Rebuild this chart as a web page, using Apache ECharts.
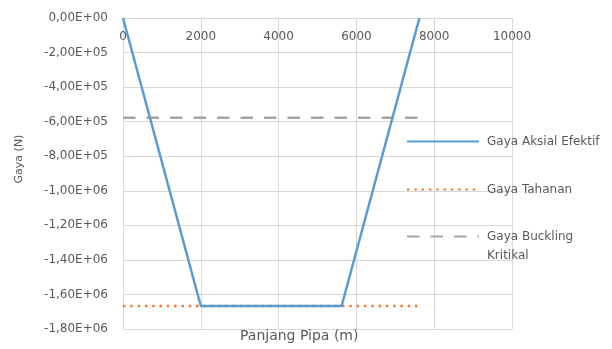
<!DOCTYPE html>
<html>
<head>
<meta charset="utf-8">
<script src="https://cdn.jsdelivr.net/npm/echarts@6/dist/echarts.min.js"></script>
<style>
html,body{margin:0;padding:0;background:#fff;}
#chart{width:612px;height:349px;}
</style>
</head>
<body>
<div id="chart"></div>
<script>
// Data
var seriesNames = ['Gaya Aksial Efektif', 'Gaya Tahanan', 'Gaya Buckling Kritikal'];
var aksialX = [0, 2000, 5620, 7620];
var aksialY = [0, -1667000, -1667000, 0];
var tahananX = [0, 7620];
var tahananY = [-1667000, -1667000];
var bucklingX = [0, 7620];
var bucklingY = [-578000, -578000];
var xTicks = [0, 2000, 4000, 6000, 8000, 10000];
var yTicks = [0, -200000, -400000, -600000, -800000, -1000000, -1200000, -1400000, -1600000, -1800000];

function pairs(xs, ys) { return xs.map(function (x, i) { return [x, ys[i]]; }); }
function sci(v) {
  if (v === 0) return '0,00E+00';
  var s = v.toExponential(2);
  var parts = s.split('e');
  var mant = parts[0].replace('.', ',');
  var exp = parseInt(parts[1], 10);
  var sign = exp < 0 ? '-' : '+';
  var e = Math.abs(exp);
  return mant + 'E' + sign + (e < 10 ? '0' + e : '' + e);
}

var font = 'DejaVu Sans';
var txt = '#595959';
var grid = '#D9D9D9';
var chart = echarts.init(document.getElementById('chart'), null, {renderer: 'canvas'});

function legendAt(name, top, formatter) {
  var l = {
    data: [name], orient: 'vertical', left: 406, top: top,
    itemWidth: 72, itemHeight: 14, itemGap: 0, padding: 0,
    itemStyle: {opacity: 0},
    textStyle: {fontFamily: font, fontSize: 12, color: txt, lineHeight: 19, padding: [0, 0, 0, 3]}
  };
  if (formatter) l.formatter = formatter;
  return l;
}

chart.setOption({
  animation: false,
  grid: {left: 123, right: 100, top: 18, bottom: 20, containLabel: false},
  xAxis: {
    type: 'value', position: 'top', min: xTicks[0], max: xTicks[xTicks.length - 1], interval: 2000,
    axisLine: {show: true, onZero: false, lineStyle: {color: grid, width: 1}},
    axisTick: {show: false},
    axisLabel: {inside: true, margin: 13, fontFamily: font, fontSize: 12, color: txt, showMaxLabel: true, showMinLabel: true,
      formatter: function (v) { return String(v); }},
    splitLine: {show: true, lineStyle: {color: grid, width: 1}}
  },
  yAxis: {
    type: 'value', min: yTicks[yTicks.length - 1], max: yTicks[0], interval: 200000,
    axisLine: {show: true, onZero: false, lineStyle: {color: grid, width: 1}},
    axisTick: {show: false},
    axisLabel: {margin: 15, fontFamily: font, fontSize: 12, color: txt, formatter: sci},
    splitLine: {show: true, lineStyle: {color: grid, width: 1}}
  },
  legend: [
    legendAt(seriesNames[0], 132),
    legendAt(seriesNames[1], 180),
    legendAt(seriesNames[2], 208, function () { return '\nGaya Buckling\nKritikal'; })
  ],
  title: [
    {text: 'Panjang Pipa (m)', left: 240, top: 329, padding: 0,
     textStyle: {fontFamily: font, fontSize: 14, fontWeight: 'normal', color: txt}}
  ],
  graphic: [
    {type: 'text', x: 19, y: 159, rotation: Math.PI / 2,
     style: {text: 'Gaya (N)', fontFamily: font, fontSize: 11, fill: txt, align: 'center', verticalAlign: 'middle'}}
  ],
  series: [
    {name: seriesNames[0], type: 'line', data: pairs(aksialX, aksialY), symbol: 'none', z: 5,
     lineStyle: {color: '#5B9BD5', width: 2.5}, itemStyle: {color: '#5B9BD5'}},
    {name: seriesNames[1], type: 'line', data: pairs(tahananX, tahananY), symbol: 'none', z: 3,
     lineStyle: {color: '#ED7D31', width: 2.5, type: [2.5, 4.8]}, itemStyle: {color: '#ED7D31'}},
    {name: seriesNames[2], type: 'line', data: pairs(bucklingX, bucklingY), symbol: 'none', z: 3,
     lineStyle: {color: '#A5A5A5', width: 2.5, type: [12.5, 11]}, itemStyle: {color: '#A5A5A5'}}
  ]
});
</script>
</body>
</html>
